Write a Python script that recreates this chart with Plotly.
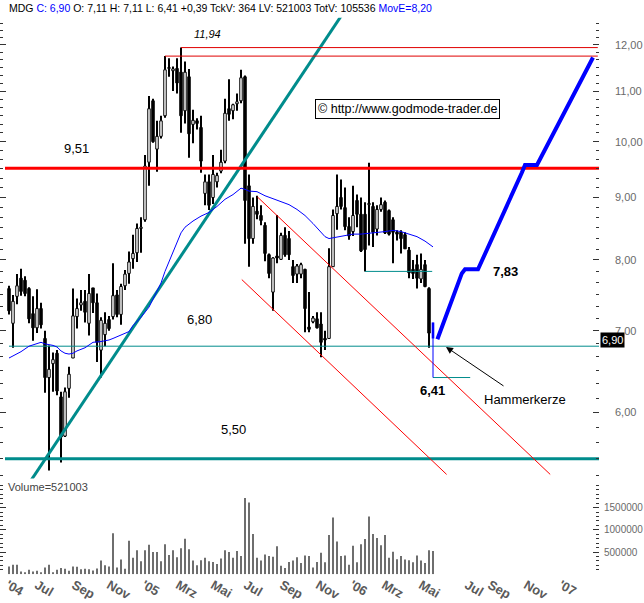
import math
import plotly.graph_objects as go

# ---------------- data ----------------
# weekly candles, index 0 = mid May 2004 ... 105 = week before the hammer
opens = [7.58,7.10,7.47,7.73,7.70,7.58,7.23,7.04,7.30,6.90,
         6.41,6.58,6.71,6.18,5.74,6.28,6.65,7.19,7.35,7.40,
         7.10,7.59,7.38,6.75,6.95,7.15,7.19,7.49,7.22,7.62,
         7.80,8.02,8.11,8.49,8.63,9.62,10.80,9.86,10.10,10.50,
         11.48,11.43,11.48,11.40,10.60,11.30,10.33,10.40,10.27,9.07,
         9.27,9.00,9.27,9.46,9.64,10.64,10.60,10.74,10.80,11.30,
         9.20,8.33,8.77,8.70,8.54,8.08,7.53,8.06,8.01,8.38,
         8.33,7.90,7.79,7.79,7.86,7.05,7.12,7.16,7.09,6.90,
         6.90,7.90,8.73,9.00,8.83,8.52,8.44,8.95,8.72,8.72,
         8.88,8.85,8.48,8.80,8.92,8.78,8.63,8.43,8.43,8.39,
         8.15,7.86,7.93,7.72,7.93,7.58]
highs = [7.62,7.49,7.79,7.87,7.76,7.60,7.47,7.57,7.38,7.00,
         6.81,6.72,6.75,6.24,6.29,6.54,7.58,7.44,7.56,7.56,
         7.79,7.59,7.51,7.18,7.25,7.20,7.95,7.56,7.65,7.85,
         8.13,8.39,8.57,8.67,9.75,10.90,10.84,10.40,10.50,11.75,
         11.70,11.52,11.70,11.94,11.63,11.47,10.62,10.45,10.50,9.40,
         9.40,9.75,9.43,9.85,10.84,11.25,10.74,10.95,11.45,11.33,
         9.40,9.00,9.03,8.87,8.59,8.10,8.04,8.71,8.42,8.51,
         8.45,8.00,7.94,7.96,7.87,7.53,7.20,7.25,7.25,7.00,
         8.18,8.80,9.40,9.31,9.17,8.67,9.20,9.05,9.00,8.92,
         9.61,8.92,8.87,9.00,8.95,8.80,8.67,8.46,8.46,8.43,
         8.20,8.00,8.08,8.10,8.00,7.60]
lows = [7.22,6.78,7.36,7.48,7.47,7.10,6.87,6.97,7.03,6.23,
        5.38,6.24,6.20,5.46,5.73,6.17,6.65,7.03,7.27,7.11,
        6.94,7.24,6.60,6.41,6.80,7.00,7.15,7.18,7.08,7.56,
        7.65,7.87,7.97,8.11,8.60,9.20,9.98,9.45,10.06,10.46,
        11.30,11.00,10.95,10.17,10.35,9.70,9.97,10.23,9.43,8.87,
        8.79,8.89,9.17,9.42,9.60,10.40,10.43,10.60,10.75,8.25,
        7.90,8.25,8.64,8.54,7.98,7.73,7.27,7.95,8.00,8.05,
        8.00,7.66,7.66,7.73,6.98,6.98,7.10,7.03,6.66,6.75,
        6.90,7.90,8.47,8.80,8.46,8.31,8.37,8.51,8.12,7.83,
        8.22,8.20,8.38,8.76,8.40,8.38,7.95,8.30,8.10,8.17,
        7.73,7.72,7.58,7.66,7.60,6.78]
closes = [7.27,7.40,7.62,7.54,7.51,7.16,7.04,7.30,7.08,6.41,
          6.51,6.63,6.25,5.73,6.24,6.45,7.20,7.30,7.38,7.25,
          7.51,7.38,6.85,7.14,7.10,7.03,7.48,7.22,7.61,7.79,
          7.97,8.10,8.49,8.51,9.55,10.64,10.00,10.10,10.40,11.45,
          11.50,11.47,11.17,10.50,11.40,10.15,10.41,10.35,9.64,9.27,
          8.87,9.40,9.38,9.62,10.55,10.53,10.72,10.78,11.28,8.95,
          8.33,8.85,8.72,8.62,8.10,7.80,8.03,8.03,8.38,8.08,
          8.08,7.77,7.91,7.93,7.30,7.02,7.17,7.04,6.85,6.88,
          7.90,8.70,8.85,8.85,8.52,8.37,8.70,8.72,8.14,8.16,
          8.90,8.43,8.80,8.88,8.42,8.40,8.43,8.40,8.33,8.17,
          7.81,7.80,7.73,7.86,7.61,6.97]

# last week: the blue hammer candle (index 106)
hammer_x = 106
hammer_open, hammer_high, hammer_low, hammer_close = 7.11, 7.11, 6.41, 6.90

# weekly volume (thousands), index 0..106
volume_k = [177,215,215,62,46,100,62,77,46,154,
            215,46,100,138,123,77,177,169,115,123,
            115,85,131,308,200,177,924,154,331,123,
            754,370,539,293,539,662,500,500,293,677,
            431,539,385,585,800,562,308,200,316,370,
            293,277,231,354,539,500,370,524,408,1717,
            1617,908,370,308,446,408,393,631,193,138,
            277,308,385,254,424,408,154,277,485,270,
            885,1278,739,408,424,215,639,270,677,793,
            1301,908,816,654,885,370,508,339,408,331,
            316,270,424,308,254,539,521]
last_volume = 521003

# moving average (MovE)
ma_x = [0,3,5,7,8,9,11,12,13,14,15,16,17,19,21,23,25,26,28,30,
        31,33,35,36,37,38,39,40,41,42,43,44,46,48,50,52,54,56,58,59,
        60,62,64,66,68,70,72,74,76,78,79,80,82,84,86,88,90,92,94,96,
        98,100,102,104,106]
ma_vals = [6.65,6.73,6.80,6.83,6.85,6.83,6.81,6.79,6.74,6.71,
           6.70,6.71,6.74,6.78,6.85,6.86,6.88,6.90,6.94,6.99,
           7.07,7.18,7.32,7.43,7.54,7.66,7.83,7.98,8.13,8.29,
           8.42,8.51,8.61,8.69,8.75,8.85,8.97,9.05,9.16,9.14,
           9.11,9.10,9.03,8.98,8.93,8.88,8.80,8.70,8.57,8.42,
           8.36,8.33,8.35,8.38,8.40,8.40,8.41,8.42,8.44,8.46,
           8.44,8.40,8.36,8.29,8.20]

# drawn levels (price) and their start / end weeks
level_951 = ([-1, 147.5], [9.51, 9.51])
level_680 = ([0, 147.5], [6.80, 6.80])
level_550 = ([-1, 147.5], [5.50, 5.50])
level_1194 = ([43, 147.2], [11.94, 11.94])
level_1175 = ([39, 147.2], [11.75, 11.75])
level_783 = ([89, 105.8], [7.83, 7.83])
level_641 = ([106, 115.3], [6.41, 6.41])

# trend lines (week, price)
uptrend = ([5.0, 85.3], [5.25, 13.0])
channel_upper = ([62.1, 135.3], [9.01, 5.34])
channel_lower = ([58.2, 109.4], [7.71, 5.34])

# forecast path (blue)
proj_x = [107.1, 113.2, 114.0, 117.25, 128.2, 129.0, 132.0, 146.0]
proj_y = [6.89, 7.80, 7.86, 7.86, 9.43, 9.57, 9.57, 11.72]

# axis ticks
tick_pos = [-0.25, 7, 16.25, 25, 33.75, 42.25, 51, 59.25, 68.25, 77.25,
            85.75, 93.75, 103, 114.5, 120.25, 129.25, 138]
tick_text = ["'04", "Jul", "Sep", "Nov", "'05", "Mrz", "Mai", "Jul", "Sep", "Nov",
             "'06", "Mrz", "Mai", "Jul", "Sep", "Nov", "'07"]
price_ticks = [6, 7, 8, 9, 10, 11, 12]
volume_ticks = [500000, 1000000, 1500000]

# ---------------- helpers ----------------
W, H = 644, 603


def px(x):
    return x / W


def py(y):
    return 1 - y / H


def fmt(v):
    return f"{v:.2f}".replace('.', ',')


FONT = "Liberation Sans, Arial, sans-serif"
TEAL = "#008c8c"

fig = go.Figure()
weeks = list(range(len(opens)))

# candle wicks (bars from low to high)
fig.add_trace(go.Bar(
    x=weeks, base=lows, y=[h - l for h, l in zip(highs, lows)],
    width=0.26, marker=dict(color="black", line=dict(width=0)),
    xaxis="x", yaxis="y", hoverinfo="skip", showlegend=False))
# candle bodies
body_base = [min(o, c) for o, c in zip(opens, closes)]
body_len = [max(abs(c - o), 0.015) for o, c in zip(opens, closes)]
body_fill = ["white" if c >= o else "black" for o, c in zip(opens, closes)]
fig.add_trace(go.Bar(
    x=weeks, base=body_base, y=body_len, width=0.62,
    marker=dict(color=body_fill, line=dict(color="black", width=1)),
    xaxis="x", yaxis="y", hoverinfo="skip", showlegend=False))


def line(xy, color, width):
    fig.add_trace(go.Scatter(x=xy[0], y=xy[1], mode="lines",
                             line=dict(color=color, width=width),
                             xaxis="x", yaxis="y", hoverinfo="skip",
                             showlegend=False))


line(level_680, TEAL, 1)
line(level_783, TEAL, 1)
line(level_641, TEAL, 1)
line(level_550, TEAL, 3)
line(uptrend, TEAL, 3)
line(level_951, "#ff0000", 3)
line(level_1194, "#e00000", 1)
line(level_1175, "#e00000", 1)
line(channel_upper, "#ff0000", 1)
line(channel_lower, "#ff0000", 1)
line((ma_x, ma_vals), "#0000ff", 1)

# hammer candle in blue
line(([hammer_x, hammer_x], [hammer_low, hammer_high]), "#0000ff", 1)
line(([hammer_x, hammer_x], [hammer_close, hammer_open]), "#0000ff", 2.6)

# forecast
line((proj_x, proj_y), "#0000ff", 4)

# volume bars
fig.add_trace(go.Bar(x=list(range(len(volume_k))), y=[v * 1000 for v in volume_k],
                     width=0.3, marker=dict(color="#6e6e6e", line=dict(width=0)),
                     xaxis="x2", yaxis="y2", hoverinfo="skip", showlegend=False))

# ---------------- axes ----------------
x_range = [-2.25, 147.5]
y_lo, y_hi = 5.30, 12.63
minor_price = [i + k / 6 for i in range(5, 13) for k in range(1, 6)]

fig.update_layout(
    width=W, height=H, autosize=False, margin=dict(l=0, r=0, t=0, b=0),
    paper_bgcolor="white", plot_bgcolor="white", showlegend=False,
    hovermode=False, barmode="overlay",
    xaxis=dict(domain=[0, px(599)], range=x_range, anchor="y",
               showticklabels=False, showgrid=False, zeroline=False,
               ticks="", fixedrange=True),
    xaxis2=dict(domain=[0, px(599)], range=x_range, anchor="y2",
                showgrid=False, zeroline=False, tickmode="array",
                tickvals=tick_pos, ticktext=tick_text, ticks="",
                tickfont=dict(family=FONT, size=13, color="#5a5a5a",
                              weight="bold")),
    yaxis=dict(domain=[py(484), py(18)], type="log",
               range=[math.log10(y_lo), math.log10(y_hi)], anchor="x",
               side="right", showgrid=False, zeroline=False,
               tickmode="array", tickvals=price_ticks,
               ticktext=[fmt(v) for v in price_ticks],
               ticks="inside", ticklen=6, tickcolor="#333333", tickwidth=1,
               mirror="ticks", showline=False, ticklabelstandoff=15,
               minor=dict(tickmode="array", tickvals=minor_price, ticks="inside",
                          ticklen=3, tickcolor="#333333"),
               tickfont=dict(family=FONT, size=11, color="#6a6a6a")),
    yaxis2=dict(domain=[py(581), py(487)], range=[0, 2090000], anchor="x2",
                side="right", showgrid=False, zeroline=False,
                tickmode="array", tickvals=volume_ticks,
                ticktext=[str(v) for v in volume_ticks],
                ticks="inside", ticklen=6, tickcolor="#333333",
                mirror="ticks", showline=False, ticklabelstandoff=4,
                minor=dict(dtick=100000, ticks="inside", ticklen=3,
                           tickcolor="#333333"),
                tickfont=dict(family=FONT, size=10, color="#6a6a6a")),
)

# ---------------- frame shapes ----------------
shapes = [
    dict(type="line", x0=px(0.5), x1=px(0.5), y0=py(0), y1=py(584),
         line=dict(color="black", width=1)),
    dict(type="line", x0=px(599), x1=px(599), y0=py(18), y1=py(484),
         line=dict(color="#f0a830", width=1.5)),
    dict(type="line", x0=0, x1=px(599), y0=py(485.5), y1=py(485.5),
         line=dict(color="black", width=3)),
    dict(type="line", x0=px(599), x1=1, y0=py(485), y1=py(485),
         line=dict(color="#000080", width=2)),
    dict(type="rect", x0=px(599), x1=px(643.5), y0=py(583), y1=py(500),
         line=dict(color="#f0a830", width=1.5)),
    dict(type="line", x0=0, x1=px(599), y0=py(584), y1=py(584),
         line=dict(color="black", width=2)),
    dict(type="rect", x0=0, x1=px(5), y0=py(500), y1=py(487),
         line=dict(width=0), fillcolor="#f0a020"),
    dict(type="rect", x0=px(599), x1=1, y0=0, y1=py(585),
         line=dict(width=0), fillcolor="#d6d6de"),
]
fig.update_layout(shapes=shapes)

# ---------------- texts ----------------
anns = []


def text(t, x, y, size=13, color="black", bold=False, italic=False,
         xanchor="center", **kw):
    anns.append(dict(text=t, x=px(x), y=py(y), xref="paper", yref="paper",
                     showarrow=False, xanchor=xanchor, yanchor="middle",
                     font=dict(family=FONT, size=size, color=color,
                               weight="bold" if bold else "normal",
                               style="italic" if italic else "normal"), **kw))


header = (f"MDG <span style='color:#0000ff'>C: {fmt(hammer_close)}</span> "
          f"O: {fmt(hammer_open)} H: {fmt(hammer_high)} L: {fmt(hammer_low)} "
          f"+0,39 TckV: 364 LV: {last_volume} TotV: 105536 "
          f"<span style='color:#0000ff'>MovE={fmt(ma_vals[-1])}</span>")
text(header, 7, 8, size=10.5, xanchor="left")
text(f"Volume={last_volume}", 6, 493, size=11, color="#444444", xanchor="left")

text("9,51", 76, 150, size=13)
text("11,94", 207, 34, size=11, italic=True)
text("6,80", 200, 323, size=13)
text("5,50", 233, 435, size=13)
text("7,83", 505, 275, size=13, bold=True)
text("6,41", 432, 395, size=13, bold=True)
text("Hammerkerze", 525, 404, size=13)
text("© http://www.godmode-trader.de", 407, 110, size=12.5,
     bordercolor="black", borderwidth=1, borderpad=2, bgcolor="white")
text(fmt(hammer_close), 612, 344, size=11, color="white",
     bgcolor="black", borderpad=1)

anns.append(dict(x=px(446), y=py(351), xref="paper", yref="paper", text="",
                 showarrow=True, ax=59, ay=40, arrowhead=2, arrowsize=1.4,
                 arrowwidth=1, arrowcolor="black"))
fig.update_layout(annotations=anns)

# the page body has a default 8px margin; remove it so the chart sits at 0,0
fig.write_html(
    "out.html",
    config={"displayModeBar": False, "responsive": False},
    post_script=("document.body.style.margin='0px';"
                 "document.documentElement.style.overflow='hidden';"),
)
